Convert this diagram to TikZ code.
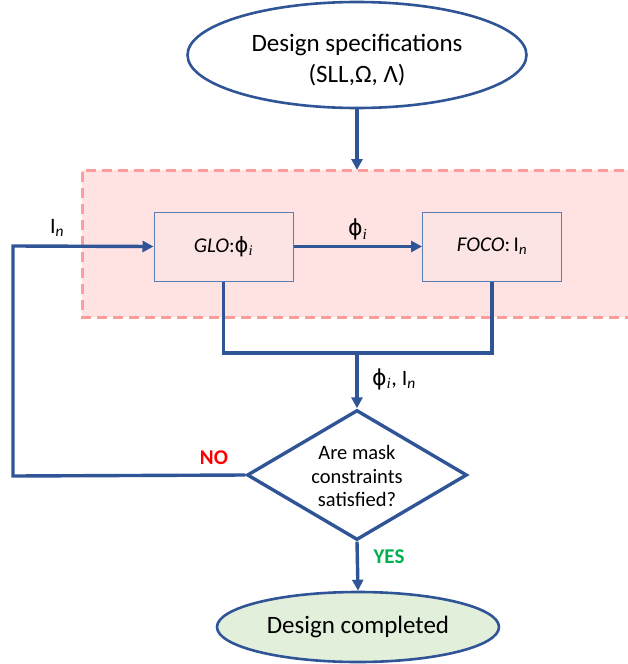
\documentclass[tikz,border=0pt]{standalone}
\usepackage{fontspec}
\setmainfont{Carlito}
\newfontfamily\phifont{DejaVu Sans}
\newfontfamily\subfont{Liberation Serif}
\usetikzlibrary{shapes.geometric,arrows.meta}
\definecolor{flowblue}{HTML}{2F5597}
\definecolor{boxedge}{HTML}{5B7DB5}
\definecolor{dashpink}{HTML}{FF9B9B}
\definecolor{fillpink}{HTML}{FFE2E2}
\definecolor{boxpink}{HTML}{FCE4E4}
\definecolor{endgreen}{HTML}{E2EFDA}
\definecolor{nored}{HTML}{FF0000}
\definecolor{yesgreen}{HTML}{00B050}
\newcommand{\phisub}{{\phifont ϕ}\textsubscript{\subfont\itshape i}}
\newcommand{\Isub}{I\textsubscript{\textit{n}}}
\tikzset{
  flow/.style={draw=flowblue, line width=3.4pt},
  arr/.style={flow, -{Triangle[length=11pt,width=11pt]}},
  procbox/.style={draw=boxedge, line width=1pt, fill=boxpink, minimum width=139pt, minimum height=69pt, font=\fontsize{21}{25}\selectfont},
  lbl/.style={font=\fontsize{22}{26}\selectfont}
}
\begin{document}
\begin{tikzpicture}[x=1pt,y=-1pt]
\useasboundingbox (0,0) rectangle (627,664);
% dashed group
\fill[fillpink] (82,170) rectangle (640,317);
\draw[dashpink, line width=3pt, dash pattern=on 10pt off 6pt] (640,170) -- (82,170) -- (82,317) -- (640,317);
% nodes
\node[ellipse, draw=flowblue, line width=2.6pt, fill=white, minimum width=339pt, minimum height=106pt] (spec) at (357,55) {};
\node[align=center, font=\fontsize{25}{31}\selectfont] (spectext) at (357,60) {Design specifications\\(SLL,Ω, Λ)};
\node[procbox] (glo) at (223.5,246.5) {\textit{GLO}:\phisub};
\node[procbox] (foco) at (492,246.5) {\textit{FOCO}:\,\Isub};
\node[diamond, draw=flowblue, line width=3.4pt, fill=white, minimum width=220pt, minimum height=130pt, inner sep=0pt] (dec) at (357,475) {};
\node[align=center, font=\fontsize{20.5}{23.5}\selectfont] (dectext) at (357,476) {Are mask\\constraints\\satisfied?};
\node[ellipse, draw=flowblue, line width=2.6pt, fill=endgreen, minimum width=282pt, minimum height=70pt, font=\fontsize{25}{30}\selectfont] (done) at (358,627) {Design completed};
\coordinate (top) at (357,170);
\coordinate (fbl) at (13,246);
\coordinate (fbb) at (13,476);
\coordinate (jl) at (glo.south |- 0,353);
\coordinate (jr) at (foco.south |- 0,353);
\coordinate (jm) at (357,353);
% connectors
\draw[arr] (spec.south) -- (top);
\draw[arr] (glo.east) -- node[above=1pt, lbl]{\phisub} (foco.west);
\draw[arr] (dec.west) -- (fbb) -- (fbl) -- (glo.west);
\draw[flow] (glo.south) -- (jl) -- (jr) -- (foco.south);
\draw[arr] (jm) -- (dec.north);
\draw[arr] (dec.south) -- (done.north);
% labels
\node[lbl] (lin) at (57,228) {\Isub};
\node[lbl] (lpi) at (394,379) {\phisub, \Isub};
\node[font=\fontsize{21}{25}\selectfont\bfseries, text=nored] (lno) at (214,458) {NO};
\node[font=\fontsize{21}{25}\selectfont\bfseries, text=yesgreen] (lyes) at (389,557) {YES};
\end{tikzpicture}
\end{document}
